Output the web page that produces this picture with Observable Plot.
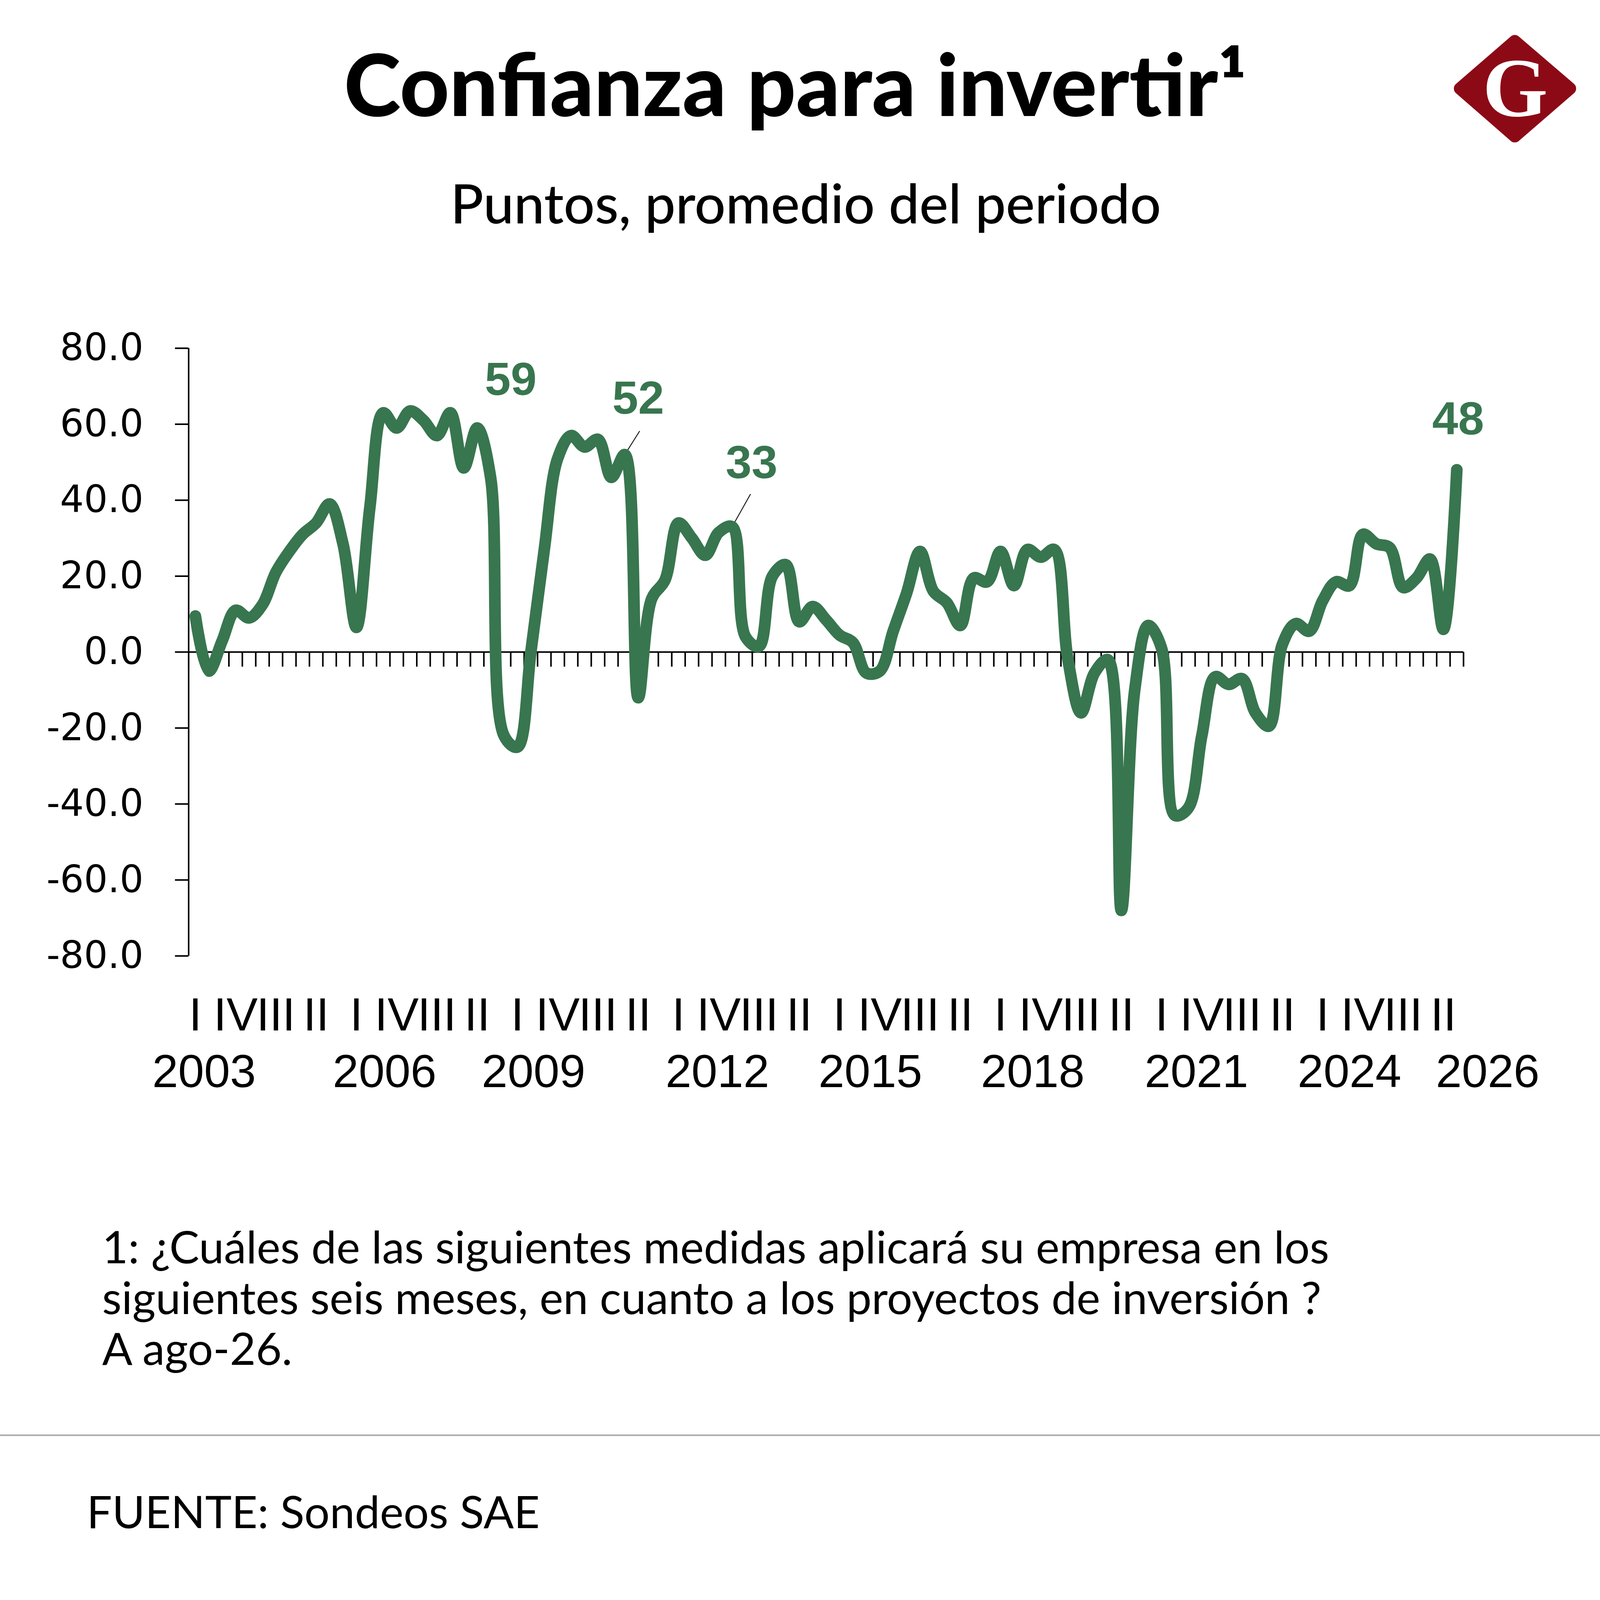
<!DOCTYPE html>
<html lang="es">
<head>
<meta charset="utf-8">
<script src="https://cdn.jsdelivr.net/npm/d3@7"></script>
<script src="https://cdn.jsdelivr.net/npm/@observablehq/plot@0.6"></script>
<style>
  html, body { margin: 0; padding: 0; background: #ffffff; overflow: hidden; }
  #page { position: relative; overflow: hidden; background: #ffffff; }
  #deco { position: absolute; left: 0; top: 0; }
  #chart { position: absolute; left: 0; }
</style>
</head>
<body>
<div id="page">
  <svg id="deco"></svg>
  <div id="chart"></div>
</div>
<script>
// ---------- data (quarterly, 2003-I to 2026-III) ----------
const startYear = 2003;
const values = [
  9.5, -5, 3, 11, 9, 12.5, 21, 26.5, 31, 34, 39, 28.5,          // 2003-2005
  6.5, 38, 63, 59, 63.5, 61, 57, 63, 48.5, 59, 46, -22,           // 2006-2008
  -25, 0, 27, 51, 57, 54, 56, 46, 52, -12, 14, 19,                // 2009-2011
  34, 30, 25.5, 31.5, 33, 4, 1.5, 20, 23, 8, 12, 8.5,             // 2012-2014
  4.5, 2.5, -5.5, -5, 5.5, 15.5, 26.5, 16, 13, 7, 19.5, 18.5,     // 2015-2017
  26.5, 17.5, 27, 25, 27, -1.5, -16, -5.5, -2, -68, -10, 7,       // 2018-2020
  1, -43, -41, -22, -6.5, -8.5, -7, -16, -19.5, 2, 7.5, 5.5,      // 2021-2023
  13.5, 18.5, 17.5, 31, 28.5, 27.5, 17, 19.5, 24.5, 6, 48         // 2024-2026
];
const quarterNames = ["I", "II", "III", "IV"];
const quarterLabelEvery = 3;
const yearLabels = ["2003", "2006", "2009", "2012", "2015", "2018", "2021", "2024", "2026"];
const yearLabelPos = [0.65, 14.1, 25.2, 38.9, 50.3, 62.4, 74.6, 86.0, 96.3]; // in quarter-index units
const yTicks = [-80, -60, -40, -20, 0, 20, 40, 60, 80];
// annotated points: index into values, label offset in data units
const annotIdx = [21, 32, 40, 94];
const annotDx = [2.5, 1.0, 1.45, 0.1];
const annotDy = [12.6, 14.7, 16.7, 13.3];
// leader lines for "52" and "33"
const leaderIdx = [32, 40];
const leaderFrom = [[33.11, 58.2], [41.37, 41.6]];

// ---------- fit the 4150x4663 design to the actual viewport ----------
const W = window.innerWidth || 4150;
const H = window.innerHeight || 4663;
const sx = W / 4150, sy = H / 4663;
const fs = (sx + sy) / 2;
const X = v => v * sx, Y = v => v * sy, F = v => v * fs;
const page = document.getElementById("page");
page.style.width = W + "px";
page.style.height = H + "px";

// ---------- derived tables ----------
const data = values.map((v, i) => ({i, v, year: startYear + Math.floor(i / 4), q: quarterNames[i % 4]}));
const qLabels = data.filter(d => d.i % quarterLabelEvery === 0);
const years = yearLabels.map((t, k) => ({t, x: yearLabelPos[k]}));
const annots = annotIdx.map((k, j) => ({x: k + annotDx[j], y: values[k] + annotDy[j], t: String(Math.round(values[k]))}));
const leaders = leaderIdx.map((k, j) => ({x1: leaderFrom[j][0], y1: leaderFrom[j][1], x2: k, y2: values[k]}));
const boundaries = d3.range(-0.5, values.length, 1);

const green = "#38764f";
const n = values.length;

const chartDiv = document.getElementById("chart");
chartDiv.style.top = Y(900) + "px";

const chart = Plot.plot({
  width: W,
  height: Y(2400),
  marginLeft: X(488.8),
  marginRight: X(354.5),
  marginTop: Y(113.8),
  marginBottom: Y(515),
  x: {domain: [-0.5, n - 0.5], axis: null},
  y: {domain: [-80, 80], axis: null},
  style: {background: "transparent", fontFamily: "'DejaVu Sans', sans-serif", overflow: "visible", color: "#000"},
  marks: [
    Plot.axisY({
      ticks: yTicks, tickSize: X(35), tickPadding: X(82), strokeWidth: 4,
      tickFormat: d => d.toFixed(1), fontSize: F(103), color: "#000"
    }),
    Plot.ruleX([-0.5], {y1: -80, y2: 80, stroke: "#000", strokeWidth: 4}),
    Plot.ruleY([0], {x1: -0.5, x2: n - 0.5, stroke: "#000", strokeWidth: 4}),
    Plot.ruleX(boundaries, {x: d => d, y1: 0, y2: 0, insetBottom: -Y(43), stroke: "#000", strokeWidth: 4}),
    Plot.text(qLabels, {x: "i", text: "q", frameAnchor: "bottom", dy: Y(217), fontSize: F(128),
      fontFamily: "'Liberation Sans', Arial, sans-serif", fill: "#000"}),
    Plot.text(years, {x: "x", text: "t", frameAnchor: "bottom", dy: Y(382), fontSize: F(128),
      fontFamily: "'Liberation Sans', Arial, sans-serif", fill: "#000"}),
    Plot.link(leaders, {x1: "x1", y1: "y1", x2: "x2", y2: "y2", stroke: "#222", strokeWidth: 2.5}),
    Plot.line(data, {x: "i", y: "v", curve: "catmull-rom", stroke: green, strokeWidth: F(32),
      strokeLinecap: "round", strokeLinejoin: "round"}),
    Plot.text(annots, {x: "x", y: "y", text: "t", fontSize: F(128), fontWeight: "bold",
      fontFamily: "'Liberation Sans', Arial, sans-serif", fill: green})
  ]
});
chartDiv.appendChild(chart);

// ---------- title, subtitle, logo, notes ----------
const deco = d3.select("#deco").attr("width", W).attr("height", H);
deco.append("text")
  .attr("x", X(2063)).attr("y", Y(338)).attr("text-anchor", "middle")
  .attr("font-family", "Lato, 'Open Sans', sans-serif").attr("font-weight", 900)
  .attr("font-size", F(236)).attr("fill", "#000")
  .text("Confianza para invertir¹");
deco.append("text")
  .attr("x", X(2090)).attr("y", Y(651)).attr("text-anchor", "middle")
  .attr("font-family", "Lato, 'Open Sans', sans-serif").attr("font-weight", 500)
  .attr("font-size", F(150)).attr("fill", "#000")
  .text("Puntos, promedio del periodo");

// logo
const logo = deco.append("g");
logo.append("polygon")
  .attr("points", [[3929, 120], [4072, 258], [3929, 397], [3787, 258]].map(p => X(p[0]) + "," + Y(p[1])).join(" "))
  .attr("fill", "#8c0a16").attr("stroke", "#8c0a16")
  .attr("stroke-width", F(34)).attr("stroke-linejoin", "round");
logo.append("text")
  .attr("x", X(3930)).attr("y", Y(338)).attr("text-anchor", "middle")
  .attr("font-family", "'Liberation Serif', 'DejaVu Serif', serif").attr("font-weight", "bold")
  .attr("font-size", F(230)).attr("fill", "#fff")
  .text("G");

const noteLines = [
  "1: ¿Cuáles de las siguientes medidas aplicará su empresa en los",
  "siguientes seis meses, en cuanto a los proyectos de inversión ?",
  "A ago-26."
];
deco.selectAll("text.note").data(noteLines).enter().append("text")
  .attr("class", "note")
  .attr("x", X(265)).attr("y", (d, k) => Y(3682 + k * 148))
  .attr("font-family", "Lato, 'Open Sans', sans-serif").attr("font-size", F(123)).attr("fill", "#000")
  .text(d => d);
deco.append("line")
  .attr("x1", 0).attr("x2", W).attr("y1", Y(4183)).attr("y2", Y(4183))
  .attr("stroke", "#aaaaaa").attr("stroke-width", 4);
deco.append("text")
  .attr("x", X(225)).attr("y", Y(4453))
  .attr("font-family", "Lato, 'Open Sans', sans-serif").attr("font-size", F(123)).attr("fill", "#000")
  .text("FUENTE: Sondeos SAE");
</script>
</body>
</html>
